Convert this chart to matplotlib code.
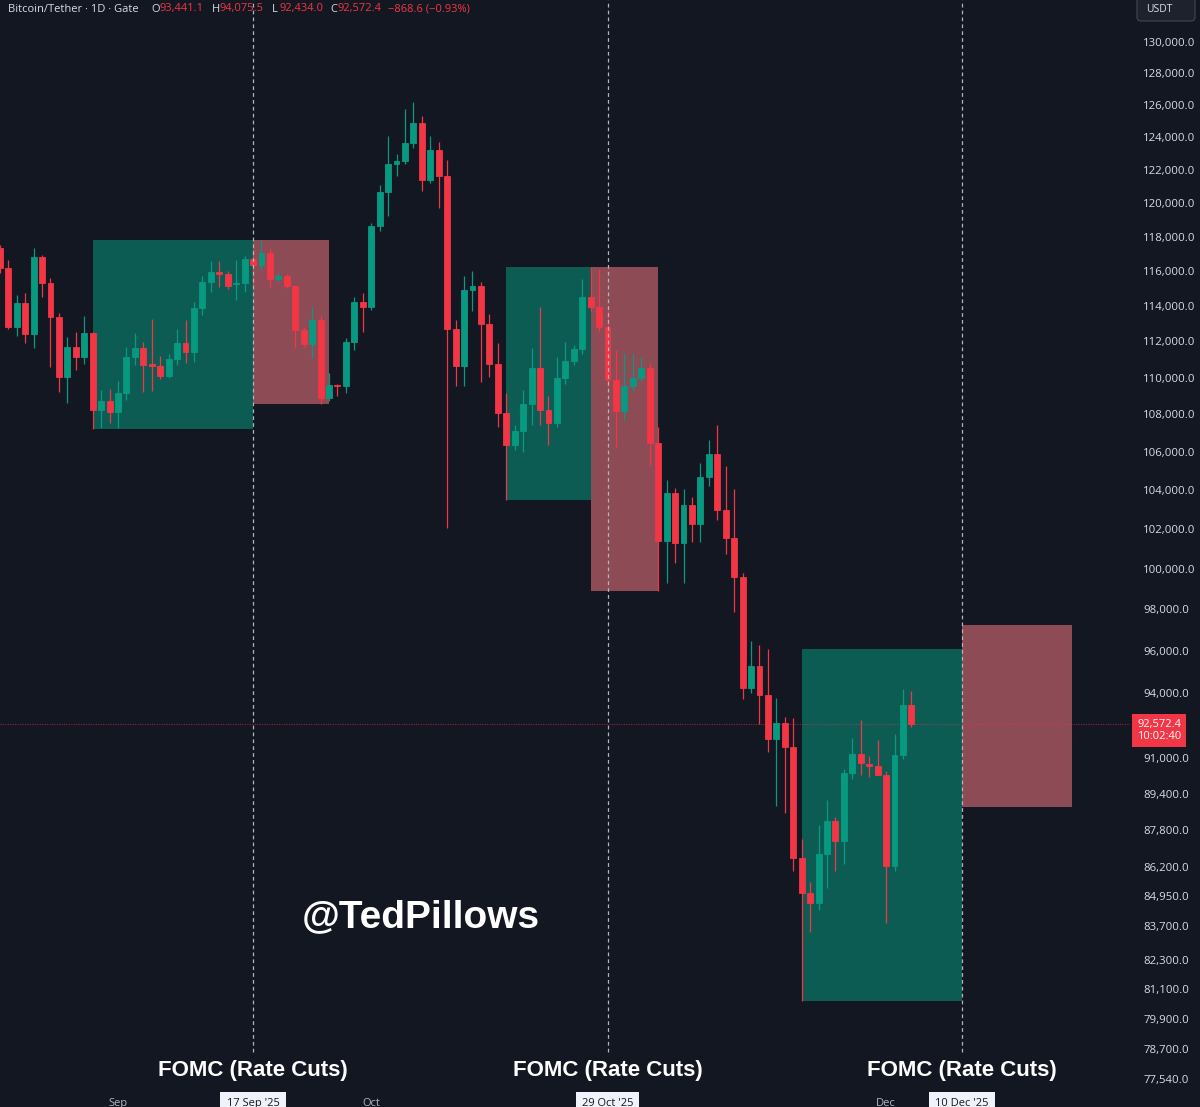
import matplotlib
matplotlib.use("Agg")
import matplotlib.pyplot as plt
import matplotlib.transforms as mtransforms
from matplotlib.patches import Rectangle, FancyBboxPatch
from matplotlib.ticker import NullLocator
import numpy as np

BG = '#131722'
GREEN = '#089981'
RED = '#F23645'

# day offsets from the 17 Sep '25 candle (Aug 18 = -30 ... Dec 4 = 78)
days = list(range(-30, 79))

opens = [117310, 116150, 112800, 114140, 112400, 116830, 115320, 113360, 110030, 111700,
         111140, 112480, 108230, 108700, 108130, 109150, 111140, 111610, 110720, 110650,
         110070, 111030, 111910, 111420, 113860, 115380, 115940, 115840, 115270, 115330,
         116690, 116360, 117040, 115540, 115680, 115150, 112640, 111860, 113200, 108870,
         109570, 109520, 111980, 114240, 113920, 118640, 120630, 122360, 122520, 123630,
         124880, 121380, 123200, 121600, 112670, 110650, 114920, 115150, 113000, 110720,
         108090, 106370, 107100, 108560, 110550, 108230, 107510, 110000, 110920, 111570,
         114500, 113950, 112800, 109890, 108190, 109540, 110000, 110530, 106490, 101380,
         103830, 101270, 103230, 102250, 104680, 105910, 102980, 101570, 99590, 94230,
         95260, 93920, 91870, 92610, 91490, 86570, 85060, 84660, 86770, 88170,
         87300, 90330, 91180, 90740, 90660, 90250, 86230, 91150, 93441.1]

highs = [117500, 116650, 114600, 114720, 117310, 116930, 115570, 113590, 112270, 112550,
         113400, 112540, 109300, 109390, 109810, 111700, 112440, 111980, 113250, 111200,
         111300, 112700, 113200, 114240, 115700, 116550, 116550, 115990, 116650, 116850,
         117300, 117800, 117310, 115900, 115800, 115190, 112780, 113950, 113400, 110240,
         109620, 112170, 114530, 114720, 118780, 121080, 124060, 122940, 125770, 126190,
         125340, 124050, 123700, 122600, 113200, 115730, 115970, 115350, 113550, 111890,
         109140, 107430, 109300, 111610, 113950, 108990, 111140, 111980, 111800, 115540,
         116230, 116100, 113750, 111520, 111330, 111330, 111140, 110800, 107330, 104540,
         104090, 104040, 103660, 105420, 106640, 107430, 105250, 104040, 99770, 96480,
         96280, 96070, 93750, 92860, 92810, 87380, 85560, 88020, 89130, 88370,
         90490, 91890, 92760, 91070, 91840, 90400, 92090, 94170, 94075.5]

lows = [115900, 112670, 112300, 111930, 111610, 114530, 110590, 109200, 108590, 110400,
        110770, 107210, 107250, 107550, 107250, 108770, 110680, 109200, 109240, 109900,
        109950, 110680, 110780, 110870, 113500, 114800, 115100, 114950, 114340, 114800,
        115200, 116050, 115100, 115400, 115000, 111610, 111700, 111050, 108560, 108700,
        108980, 109170, 111520, 112540, 113750, 118360, 119200, 121600, 122350, 123330,
        120710, 121200, 119700, 102050, 109540, 109540, 113720, 109750, 110030, 107330,
        103490, 106100, 106010, 107430, 107430, 106370, 107300, 109630, 110700, 111300,
        113700, 112500, 109500, 106280, 107680, 109240, 109800, 105300, 98900, 99290,
        100290, 99290, 101350, 101350, 104220, 102450, 100760, 97890, 93700, 94000,
        92560, 91280, 88830, 88560, 86030, 80620, 83430, 84380, 85300, 86000,
        86310, 90040, 90220, 90130, 90220, 83800, 86000, 90970, 92434.0]

closes = [116150, 112800, 114140, 112400, 116830, 115320, 113360, 110030, 111700, 111140,
          112480, 108230, 108700, 108130, 109150, 111140, 111610, 110680, 110650, 110070,
          111030, 111910, 111420, 113860, 115380, 115940, 115840, 115150, 115330, 116690,
          116360, 117040, 115540, 115680, 115150, 112640, 111860, 113200, 108870, 109570,
          109520, 111980, 114240, 113920, 118640, 120630, 122360, 122520, 123630, 124880,
          121380, 123200, 121600, 112670, 110650, 114920, 115150, 113000, 110720, 108090,
          106370, 107100, 108560, 110550, 108230, 107510, 110000, 110920, 111570, 114500,
          113950, 112800, 109890, 108190, 109540, 110000, 110530, 106490, 101380, 103830,
          101270, 103230, 102250, 104680, 105910, 102980, 101570, 99590, 94230, 95260,
          93920, 91870, 92610, 91490, 86570, 85060, 84660, 86770, 88170, 87300,
          90330, 91180, 90790, 90660, 90250, 86230, 91150, 93450, 92572.4]

# FOMC range boxes: start day, end day, low, high
box_x0 = [-19, 0, 30, 40, 65, 84]
box_x1 = [0, 9, 40, 48, 84, 97]
box_lo = [107210, 108560, 103490, 98900, 80620, 88810]
box_hi = [117800, 117800, 116230, 116230, 96080, 97240]
box_up = [True, False, True, False, True, False]

fomc_days = [0, 42, 84]

yticks = [130000, 128000, 126000, 124000, 122000, 120000, 118000, 116000, 114000,
          112000, 110000, 108000, 106000, 104000, 102000, 100000, 98000, 96000, 94000,
          91000, 89400, 87800, 86200, 84950, 83700, 82300, 81100, 79900, 78700, 77540]

xtick_pos = [-16, 0, 14, 42, 75, 84]
xtick_labels = ['Sep', "17 Sep '25", 'Oct', "29 Oct '25", 'Dec', "10 Dec '25"]

last_price = closes[-1]

fig = plt.figure(figsize=(12, 11.07), dpi=100, facecolor=BG)
ax = fig.add_axes([0, 17 / 1107, 1130 / 1200, 1090 / 1107])
ax.set_facecolor(BG)
ax.set_yscale('log')
ax.set_xlim(-29.98, 103.9)
ax.set_ylim(77124, 132770)

for x0, x1, lo, hi, up in zip(box_x0, box_x1, box_lo, box_hi, box_up):
    ax.add_patch(Rectangle((x0, lo), x1 - x0, hi - lo, facecolor='#0C5C54' if up else '#8D4B55',
                           edgecolor='none', zorder=1))

o = np.array(opens)
c = np.array(closes)
cols = np.where(c >= o, GREEN, RED)
ax.vlines(days, lows, highs, colors=cols, lw=0.9, zorder=3)
ax.bar(days, np.abs(c - o), bottom=np.minimum(o, c), width=0.7, color=cols,
       edgecolor=cols, linewidth=0.6, zorder=4)

# FOMC day markers
for d in fomc_days:
    ax.axvline(d, ymin=0.035, ymax=1, color='#B2B5BE', lw=0.9, ls=(0, (3, 2.5)), zorder=5)

# last price line
ax.axhline(last_price, color=RED, lw=0.8, alpha=0.55, ls=(0, (1, 1.2)), zorder=2)

for sp in ax.spines.values():
    sp.set_visible(False)

ax.yaxis.tick_right()
ax.set_yticks(yticks)
ax.set_yticklabels([f"{v:,.1f}" for v in yticks])
ax.yaxis.set_minor_locator(NullLocator())
ax.tick_params(axis='y', length=0, pad=9.5, labelsize=8.2, labelcolor='#D9DCE3')
for lab in ax.get_yticklabels():
    lab.set_fontfamily('Open Sans')

ax.set_xticks(xtick_pos)
ax.set_xticklabels(xtick_labels)
ax.tick_params(axis='x', length=0, pad=5.5, labelsize=8, labelcolor='#B2B5BE')
for lab in ax.get_xticklabels():
    lab.set_fontfamily('Open Sans')
    if "'" in lab.get_text():
        lab.set_color('#131722')
        lab.set_bbox(dict(boxstyle='square,pad=0.55', fc='#F0F3FA', ec='none'))

xtr = ax.get_xaxis_transform()
for d in fomc_days:
    ax.text(d, 0.018, 'FOMC (Rate Cuts)', transform=xtr, ha='center', va='center',
            color='white', fontsize=16, fontweight='bold',
            family=['Liberation Sans', 'DejaVu Sans'], zorder=6)

ax.text(302 / 1130, (1090 - 917) / 1090, '@TedPillows', transform=ax.transAxes,
        ha='left', va='center', color='white', fontsize=28, fontweight='bold',
        family=['Liberation Sans', 'DejaVu Sans'], zorder=6)

# last price tag on the scale
ptr = mtransforms.blended_transform_factory(ax.transAxes, ax.transData)
ptr = mtransforms.offset_copy(ptr, fig=fig, x=0, y=-7, units='dots')
ax.text(1 + 7 / 1130, last_price, '92,572.4\n10:02:40', transform=ptr, ha='left', va='center',
        color='white', fontsize=8, family='Open Sans', linespacing=1.15, clip_on=False,
        bbox=dict(boxstyle='square,pad=0.45', fc=RED, ec='none'), zorder=7)

# header
ty = 1 - 9 / 1107
fig.text(8 / 1200, ty, 'Bitcoin/Tether · 1D · Gate', color='#D9DCE3', fontsize=8,
         family='Open Sans', va='center')
parts = [(151, 'O', '#D9DCE3'), (159, '93,441.1', RED), (212, 'H', '#D9DCE3'),
         (220, '94,075.5', RED), (272, 'L', '#D9DCE3'), (279, '92,434.0', RED),
         (330, 'C', '#D9DCE3'), (338, '92,572.4', RED), (388, '−868.6 (−0.93%)', RED)]
for px, s, col in parts:
    fig.text(px / 1200, ty, s, color=col, fontsize=8, family='Open Sans', va='center')

# currency box on the price scale (pixel coordinates)
fig.add_artist(FancyBboxPatch((1137, 1107 - 21), 58, 30, boxstyle='round,pad=0,rounding_size=4',
                              transform=mtransforms.IdentityTransform(), fc='#1E222D',
                              ec='#434651', lw=0.8))
fig.text(1146 / 1200, 1 - 10 / 1107, 'USDT', ha='left', va='center', color='#D9DCE3',
         fontsize=7.5, family='Open Sans')

fig.savefig('out.png', dpi=100, facecolor=BG)
